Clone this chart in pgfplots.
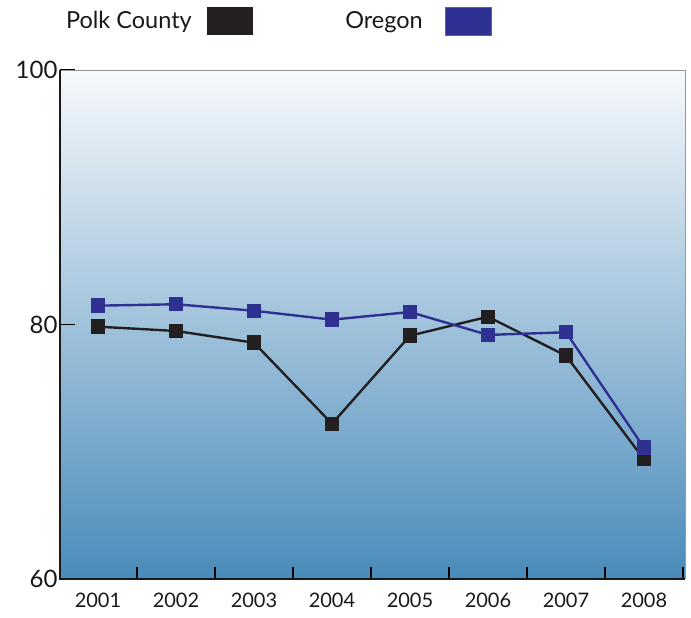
\documentclass[border=0pt]{standalone}
\usepackage{pgfplots}
\pgfplotsset{compat=1.18}
\usepackage{fontspec}
\setmainfont{Lato}
\definecolor{polk}{HTML}{231F20}
\definecolor{oregon}{HTML}{2E3192}
\definecolor{bgtop}{HTML}{F6F9FC}
\definecolor{bgbot}{HTML}{4A8BBA}
\begin{document}
\begin{tikzpicture}
\begin{axis}[
  scale only axis,
  width=625pt, height=509pt,
  xmin=-0.487, xmax=7.526,
  ymin=60, ymax=100,
  axis line style={draw=none},
  axis background/.style={top color=bgtop, bottom color=bgbot},
  xtick={0,1,2,3,4,5,6,7},
  xticklabels={2001,2002,2003,2004,2005,2006,2007,2008},
  minor xtick={0.5,1.5,2.5,3.5,4.5,5.5,6.5,7.5},
  ytick={60,80,100},
  xtick pos=bottom, ytick pos=left,
  tick align=inside,
  major tick length=15pt,
  minor tick length=12pt,
  major x tick style={draw=none},
  minor x tick style={draw=black, line width=1.6pt},
  major y tick style={draw=black, line width=1.6pt},
  xticklabel style={font=\fontsize{20}{24}\selectfont, text=black!90, yshift=-10pt},
  yticklabel style={font=\fontsize{24}{28}\selectfont, text=black!90, xshift=1pt},
  /pgf/number format/assume math mode=true,
  clip=false,
]
\addplot[color=polk, line width=2.4pt, mark=square*, mark size=6.7pt, mark options={fill=polk, draw=polk, line width=0pt}]
coordinates {(0,79.83) (1,79.49) (2,78.57) (3,72.20) (4,79.12) (5,80.61) (6,77.55) (7,69.41)};
\addplot[color=oregon, line width=2.4pt, mark=square*, mark size=6.7pt, mark options={fill=oregon, draw=oregon, line width=0pt}]
coordinates {(0,81.48) (1,81.59) (2,81.08) (3,80.38) (4,80.98) (5,79.18) (6,79.39) (7,70.32)};
\draw[gray!80, line width=0.9pt] (rel axis cs:0,1) -- (rel axis cs:1,1) -- (rel axis cs:1,0);
\draw[black!90, line width=2.6pt] (rel axis cs:0,1) -- (rel axis cs:0,0) -- (rel axis cs:1,0);
\end{axis}
% legend
\node[anchor=base east, font=\fontsize{23.5}{26}\selectfont, text=black!90, inner sep=0pt] at (132pt,550pt) {Polk County};
\fill[polk] (147pt,544pt) rectangle (193pt,572pt);
\node[anchor=base east, font=\fontsize{23.5}{26}\selectfont, text=black!90, inner sep=0pt] at (363pt,550pt) {Oregon};
\fill[oregon] (385pt,544pt) rectangle (431pt,572pt);
\draw[black!60, line width=0.6pt] (385pt,544pt) rectangle (431pt,572pt);
\path (-60pt,-39pt) rectangle (631pt,579pt);
\end{tikzpicture}
\end{document}
